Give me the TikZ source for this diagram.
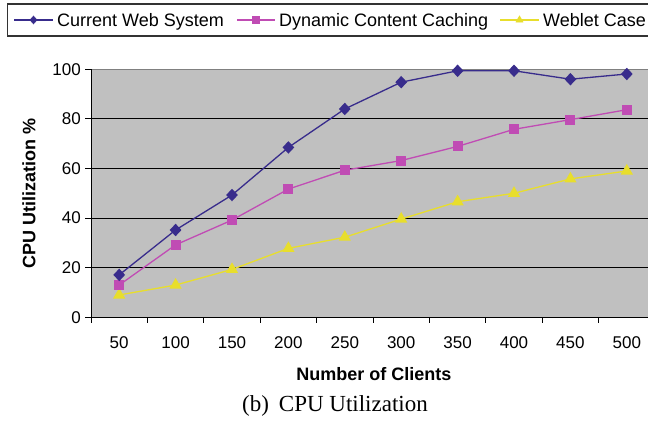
\documentclass[tikz,border=0pt]{standalone}
\usepackage{fontspec}
\setmainfont{Liberation Sans}
\newfontfamily\capfont{Liberation Serif}
\usetikzlibrary{plotmarks}
\definecolor{navy}{RGB}{56,44,140}
\definecolor{magen}{RGB}{192,76,180}
\definecolor{yell}{RGB}{232,222,44}
\definecolor{plotgray}{RGB}{192,192,192}
\definecolor{bordergray}{RGB}{128,128,128}
\begin{document}
\begin{tikzpicture}[x=1pt,y=1pt,
  ticklab/.style={font=\fontsize{17}{20}\selectfont, inner sep=0pt},
  legtext/.style={font=\fontsize{18}{21}\selectfont, inner sep=0pt, anchor=base west},
  axtitle/.style={font=\fontsize{18}{21}\selectfont\bfseries, inner sep=0pt},
  gridline/.style={black, line width=0.9pt},
  axisline/.style={black, line width=1pt},
  seriesA/.style={navy, line width=1.3pt, mark=diamond*, mark size=5.3pt,
     mark options={xscale=1.25, solid, fill=navy, draw=navy}},
  seriesB/.style={magen, line width=1.3pt, mark=square*, mark size=4.3pt,
     mark options={solid, fill=magen, draw=magen}},
  seriesC/.style={yell, line width=1.3pt, mark=triangle*, mark size=5.8pt,
     mark options={solid, fill=yell, draw=yell}},
]
\useasboundingbox (0,0) rectangle (648,422);
\clip (0,0) rectangle (648,422);
\fill[white] (0,0) rectangle (648,422);

% legend
\draw[line width=1.2pt, draw=black!80] (7.3,386) rectangle (700,418);
\draw[navy, line width=1.3pt] (14,402) -- (53,402);
\draw[navy] plot[only marks, mark=diamond*, mark size=4pt, mark options={xscale=1.2, fill=navy}] coordinates {(33.5,402)};
\node[legtext] (legA) at (57,395.6) {Current Web System};
\draw[magen, line width=1.3pt] (237,402) -- (275,402);
\draw[magen] plot[only marks, mark=square*, mark size=3.5pt, mark options={fill=magen}] coordinates {(256,402)};
\node[legtext] (legB) at (279,395.6) {Dynamic Content Caching};
\draw[yell, line width=1.3pt] (500,402) -- (539,402);
\draw[yell] plot[only marks, mark=triangle*, mark size=4.2pt, mark options={fill=yell}] coordinates {(519.5,402)};
\node[legtext] (legC) at (543,395.6) {Weblet Case};

% chart in data coordinates
\begin{scope}[shift={(119.2pt,104.7pt)}, x=56.4pt, y=2.48pt]
  \fill[plotgray] (-0.5,0) rectangle (10,100);
  \draw[bordergray, line width=1pt] (-0.5,100) -- (10,100);
  \foreach \v in {20,40,60,80} {
    \draw[gridline] (-0.5,\v) -- (10,\v);
  }
  \draw[axisline] (-0.5,0) -- (-0.5,100);
  \draw[axisline] (-0.5,0) -- (10,0);
  \foreach \v in {0,20,40,60,80,100} {
    \draw[axisline] (-0.5,\v) -- ++(-6pt,0);
    \node[ticklab, anchor=east] (yl\v) at ([xshift=-10pt]-0.5,\v) {\v};
  }
  \foreach \k in {0,...,10} {
    \draw[axisline] (\k-0.5,0) -- ++(0,-6pt);
  }
  \foreach \i/\lab in {0/50,1/100,2/150,3/200,4/250,5/300,6/350,7/400,8/450,9/500} {
    \node[ticklab] (xl\i) at ([yshift=-25.7pt]\i,0) {\lab};
  }
  \draw[seriesC] plot coordinates {(0,9.0) (1,13.0) (2,19.3) (3,27.8) (4,32.3) (5,39.6) (6,46.6) (7,50.0) (8,55.8) (9,59.0)};
  \draw[seriesB] plot coordinates {(0,13.0) (1,29.2) (2,39.2) (3,51.7) (4,59.3) (5,63.2) (6,68.9) (7,75.8) (8,79.7) (9,83.7)};
  \draw[seriesA] plot coordinates {(0,17.1) (1,35.2) (2,49.3) (3,68.5) (4,84.0) (5,94.8) (6,99.4) (7,99.4) (8,96.0) (9,98.1)};
\end{scope}

% titles
\node[axtitle] (xtitle) at (374,48.3) {Number of Clients};
\node[axtitle, rotate=90] (ytitle) at (29,228.5) {CPU Utilization \%};
\node[inner sep=0pt, anchor=east, font=\capfont\fontsize{23}{27}\selectfont] (caption) at (428,16) {(b)\hspace{10pt}CPU Utilization};
\end{tikzpicture}
\end{document}
